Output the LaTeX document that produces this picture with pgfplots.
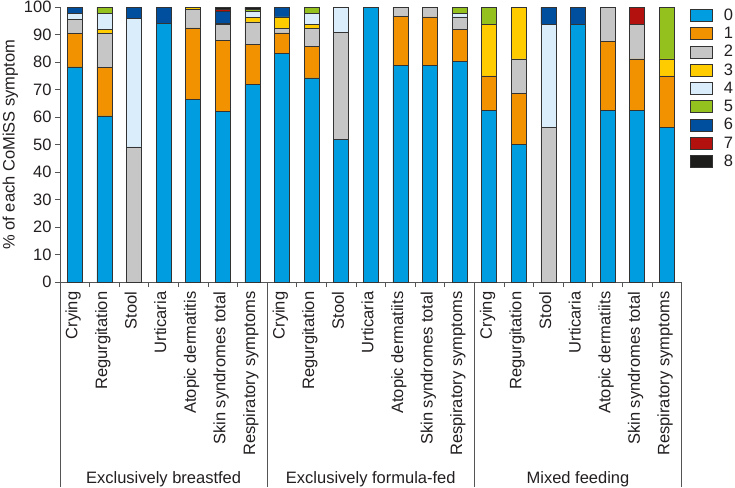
\documentclass[border=0pt]{standalone}
\usepackage{pgfplots}
\pgfplotsset{compat=1.18}
\usepackage{pgfplotstable}
\usepackage{fontspec}
\setmainfont{Liberation Sans}
\definecolor{c0}{HTML}{009EE0}
\definecolor{c1}{HTML}{F39200}
\definecolor{c2}{HTML}{C6C6C6}
\definecolor{c3}{HTML}{FFCC00}
\definecolor{c4}{HTML}{D9EDFB}
\definecolor{c5}{HTML}{95C11F}
\definecolor{c6}{HTML}{004F9F}
\definecolor{c7}{HTML}{B2110E}
\definecolor{c8}{HTML}{1D1D1B}
\definecolor{axisgray}{HTML}{555555}
\definecolor{barline}{HTML}{333333}
\definecolor{textc}{HTML}{231F20}
\newcommand{\fsize}{\fontsize{16.5}{19.8}\selectfont}

\pgfplotstableread{
x c0 c1 c2 c3 c4 c5 c6 c7 c8
0 78.3 12.1 5.1 0 2.2 0 2.3 0 0
1 60.5 17.7 12.2 1.5 5.8 2.3 0 0 0
2 0 0 49.2 0 46.9 0 3.9 0 0
3 94.1 0 0 0 0 0 5.9 0 0
4 66.4 26.1 6.7 0.8 0 0 0 0 0
5 62.0 26.0 5.7 0 0.4 0 4.3 0.8 0.8
6 71.8 14.7 8.2 1.5 2.3 0.8 0 0 0.7
7 83.2 7.5 1.5 4.3 0 0 3.5 0 0
8 74.3 11.6 6.3 1.6 4.1 2.1 0 0 0
9 51.9 0 38.9 0 9.2 0 0 0 0
10 100 0 0 0 0 0 0 0 0
11 78.8 17.9 3.3 0 0 0 0 0 0
12 78.8 17.7 3.5 0 0 0 0 0 0
13 80.2 11.9 4.4 0 1.4 2.1 0 0 0
14 62.5 12.5 0 18.75 0 6.25 0 0 0
15 50 18.75 12.5 18.75 0 0 0 0 0
16 0 0 56.25 0 37.5 0 6.25 0 0
17 93.75 0 0 0 0 0 6.25 0 0
18 62.5 25 12.5 0 0 0 0 0 0
19 62.5 18.75 12.5 0 0 0 0 6.25 0
20 56.25 18.75 0 6.25 0 18.75 0 0 0
}\datatable

\pgfplotsset{mybarlegend/.style={legend image code/.code={\draw[##1] (0pt,-6pt) rectangle (22pt,6pt);}}}

\begin{document}
\begin{tikzpicture}
\begin{axis}[
  scale only axis, width=621.6pt, height=274.7pt,
  xmin=-0.5, xmax=20.5, ymin=0, ymax=100,
  ybar stacked, bar width=15pt,
  clip=false,
  axis x line*=bottom, axis y line*=left,
  axis line style={draw=axisgray, line width=0.8pt},
  xtick={0,...,20},
  xticklabels={Crying, Regurgitation, Stool, Urticaria, Atopic dermatitis, Skin syndromes total, Respiratory symptoms, Crying, Regurgitation, Stool, Urticaria, Atopic dermatiits, Skin syndromes total, Respiratory symptoms, Crying, Regurgitation, Stool, Urticaria, Atopic dermatiits, Skin syndromes total, Respiratory symptoms},
  minor xtick={-0.5,0.5,...,20.5},
  ytick={0,10,...,100},
  tick align=outside, major tick length=5pt, minor tick length=5pt,
  major x tick style={draw=none},
  minor x tick style={draw=axisgray, line width=0.8pt},
  y tick style={draw=axisgray, line width=0.8pt},
  /pgf/number format/assume math mode=true,
  tick label style={font=\fsize, text=textc},
  xticklabel style={rotate=90, anchor=mid east, inner xsep=4.5pt, inner ysep=0pt},
  ylabel={\% of each CoMiSS symptom},
  ylabel style={font=\fsize, text=textc, at={(axis description cs:-0.08,0.5)}, anchor=center},
  legend style={draw=none, fill=none, at={(1,1)}, anchor=north west, xshift=8pt,
    inner sep=0pt, row sep=2.3pt, column sep=10pt,
    nodes={inner sep=1.5pt, font=\fsize, text=textc}},
  legend cell align=left,
]
\addplot[fill=c0, draw=barline, line width=0.6pt, mybarlegend] table[x=x,y=c0]{\datatable};
\addplot[fill=c1, draw=barline, line width=0.6pt, mybarlegend] table[x=x,y=c1]{\datatable};
\addplot[fill=c2, draw=barline, line width=0.6pt, mybarlegend] table[x=x,y=c2]{\datatable};
\addplot[fill=c3, draw=barline, line width=0.6pt, mybarlegend] table[x=x,y=c3]{\datatable};
\addplot[fill=c4, draw=barline, line width=0.6pt, mybarlegend] table[x=x,y=c4]{\datatable};
\addplot[fill=c5, draw=barline, line width=0.6pt, mybarlegend] table[x=x,y=c5]{\datatable};
\addplot[fill=c6, draw=barline, line width=0.6pt, mybarlegend] table[x=x,y=c6]{\datatable};
\addplot[fill=c7, draw=barline, line width=0.6pt, mybarlegend] table[x=x,y=c7]{\datatable};
\addplot[fill=c8, draw=barline, line width=0.6pt, mybarlegend] table[x=x,y=c8]{\datatable};
\legend{0,1,2,3,4,5,6,7,8}
\draw[axisgray, line width=0.8pt] (axis cs:-0.5,0) -- ++(0pt,-205pt);
\draw[axisgray, line width=0.8pt] (axis cs:6.5,0) -- ++(0pt,-205pt);
\draw[axisgray, line width=0.8pt] (axis cs:13.5,0) -- ++(0pt,-205pt);
\draw[axisgray, line width=0.8pt] (axis cs:20.5,0) -- ++(0pt,-205pt);
\node[font=\fsize, text=textc] at ([yshift=-197pt]axis cs:3,0) {Exclusively breastfed};
\node[font=\fsize, text=textc] at ([yshift=-197pt]axis cs:10,0) {Exclusively formula-fed};
\node[font=\fsize, text=textc] at ([yshift=-197pt]axis cs:17,0) {Mixed feeding};
\end{axis}
\pgfresetboundingbox
\path (-60pt,-205pt) rectangle (675pt,282pt);
\end{tikzpicture}
\end{document}
